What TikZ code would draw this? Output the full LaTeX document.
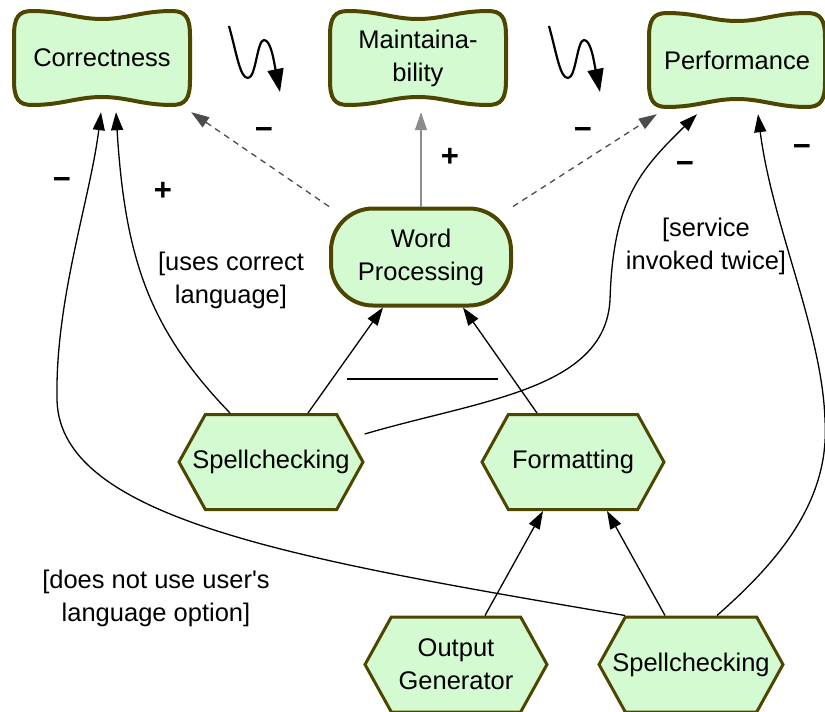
\documentclass[tikz,border=0pt]{standalone}
\usepackage{fontspec}
\setmainfont{Liberation Sans}
\usetikzlibrary{shapes.symbols,arrows.meta}
\definecolor{goalfill}{RGB}{212,250,210}
\definecolor{goaledge}{RGB}{78,70,0}
\tikzset{softgoal/.pic={
    \draw[draw=goaledge, fill=goalfill, line width=4pt, line join=round]
      (-70,-47) .. controls (-40,-47) and (-25,-39) .. (0,-39)
      .. controls (25,-39) and (40,-47) .. (70,-47)
      .. controls (84,-47) and (88,-40) .. (88,-22) -- (88,22)
      .. controls (88,40) and (84,47) .. (70,47)
      .. controls (40,47) and (25,39) .. (0,39)
      .. controls (-25,39) and (-40,47) .. (-70,47)
      .. controls (-84,47) and (-88,40) .. (-88,22) -- (-88,-22)
      .. controls (-88,-40) and (-84,-47) .. (-70,-47) -- cycle;
  }}
\begin{document}
\begin{tikzpicture}[x=1pt,y=-1pt,font=\fontsize{25.5}{33}\selectfont]
        \tikzstyle{goal}=[minimum width=180pt, minimum height=108pt, align=center, inner sep=0pt]
        \tikzstyle{hardgoal}=[rectangle, rounded corners=42pt, draw=goaledge, fill=goalfill, line width=4pt, minimum width=180pt, minimum height=97pt, align=center]
        \tikzstyle{task}=[shape=signal, signal to=east and west, signal pointer angle=122, draw=goaledge, fill=goalfill, line width=3pt, minimum width=182pt, minimum height=95pt, inner ysep=0pt, inner xsep=-13pt, align=center]
        \tikzstyle{link}=[line width=1.3pt, -{Triangle[length=18pt,width=12pt]}]
        \tikzstyle{side}=[link, dash pattern=on 6pt off 5pt, draw=black!70]
        \tikzstyle{sign}=[font=\fontsize{31}{31}\selectfont\bfseries]
        \tikzstyle{cond}=[align=center]
        \tikzstyle{wavy}=[line width=2.2pt, -{Triangle[length=23pt,width=16pt]}]
            \useasboundingbox (0,0) rectangle (825,712);
            % softgoals
            \pic at (102,58) {softgoal};
            \pic at (418,58) {softgoal};
            \pic at (737,60) {softgoal};
            \node[goal] (corr) at (102,58) {Correctness};
            \node[goal] (maint) at (418,58) {Maintaina-\\bility};
            \node[goal] (perf) at (737,60) {Performance};
            % goal and tasks
            \node[hardgoal] (wp) at (421,257) {Word\\Processing};
            \node[task] (spl1) at (271,462) {Spellchecking};
            \node[task] (fmt) at (573,462) {Formatting};
            \node[task] (outg) at (456,664.5) {Output\\Generator};
            \node[task] (spl2) at (691,664.5) {Spellchecking};
            % wavy arrows
            \draw[wavy] (229,26) .. controls (237,55) and (240,78) .. (248,78)
                .. controls (256,78) and (257,40) .. (264,40)
                .. controls (271,40) and (274,62) .. (280,92);
            \draw[wavy, shift={(320,0)}] (229,26) .. controls (237,55) and (240,78) .. (248,78)
                .. controls (256,78) and (257,40) .. (264,40)
                .. controls (271,40) and (274,62) .. (280,92);
            % contributions
            \draw[side] (wp.north west) -- ([xshift=-1pt]corr.south east);
            \draw[side] (wp.north east) -- ([xshift=10pt]perf.south west);
            \draw[link, draw=black!45] (wp.north) -- ([xshift=3pt]maint.south);
            \draw[link] ([xshift=-41pt]spl1.north) .. controls (150,330) and (125,260) .. ([xshift=14pt]corr.south);
            \draw[link] ([xshift=-66pt]spl2.north) .. controls (300,560) and (60,520) .. (57,400)
                .. controls (55,300) and (90,200) .. ([xshift=-1pt]corr.south);
            \draw[link] ([yshift=28pt]spl1.east) .. controls (480,400) and (605,390) .. (610,300)
                .. controls (613,200) and (640,170) .. ([xshift=-40pt]perf.south);
            \draw[link] ([xshift=26pt]spl2.north) .. controls (780,560) and (830,500) .. (825,420)
                .. controls (822,330) and (772,225) .. ([xshift=21pt]perf.south);
            % decompositions
            \draw[link] ([xshift=37pt]spl1.north) -- ([xshift=-38pt]wp.south);
            \draw[link] ([xshift=-36pt]fmt.north) -- ([xshift=42pt]wp.south);
            \draw[link] ([xshift=29pt]outg.north) -- ([xshift=-30pt]fmt.south);
            \draw[link] ([xshift=-26pt]spl2.north) -- ([xshift=34pt]fmt.south);
            \draw[line width=1.5pt] (347,379) -- (498,379);
            % signs and conditions
            \node[sign] (s1) at (62,183) {−};
            \node[sign] (s2) at (163,191) {+};
            \node[sign] (s3) at (264,133) {−};
            \node[sign] (s4) at (450,157) {+};
            \node[sign] (s5) at (583,133) {−};
            \node[sign] (s6) at (685,167) {−};
            \node[sign] (s7) at (802,150) {−};
            \node[cond] (c1) at (231,280) {[uses correct\\language]};
            \node[cond] (c2) at (706,246) {[service\\invoked twice]};
            \node[cond] (c3) at (156,598) {[does not use user\textquotesingle s\\language option]};
        \end{tikzpicture}
\end{document}
